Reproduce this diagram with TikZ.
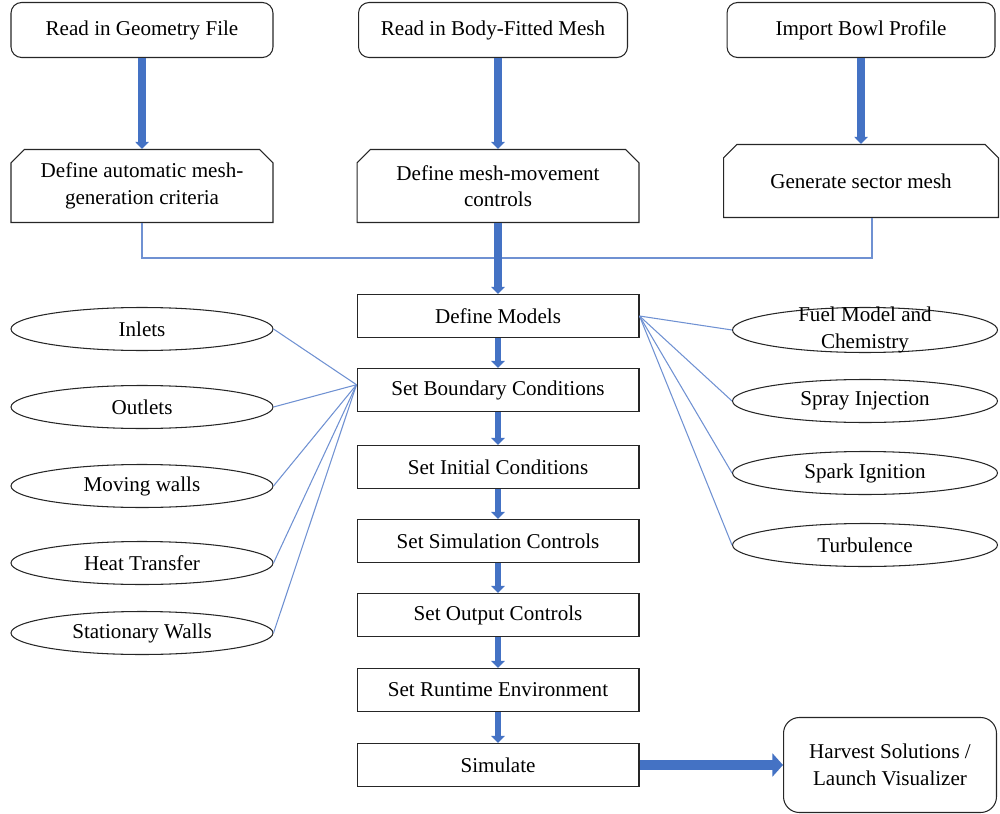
\documentclass[tikz,border=0pt]{standalone}
\usepackage{fontspec}
\setmainfont{Liberation Serif}
\usetikzlibrary{shapes.geometric,shapes.misc,arrows.meta}
\definecolor{flowblue}{HTML}{4472C4}
\definecolor{linkblue}{HTML}{6F91D2}

\begin{document}
\begin{tikzpicture}
[x=0.02cm, y=-0.02cm, font=\fontsize{12}{15}\selectfont,
 topbox/.style={rectangle, rounded corners=6pt, draw=black!85, semithick, minimum width=5.3cm, minimum height=1.1cm, align=center},
 cutbox/.style={chamfered rectangle, chamfered rectangle corners={north west,north east}, chamfered rectangle xsep=0.16cm, draw=black!85, semithick, minimum height=1.46cm, align=center},
 stepbox/.style={rectangle, draw=black!85, semithick, minimum width=5.64cm, minimum height=0.86cm},
 oval/.style={ellipse, draw=black!85, semithick, minimum width=5.24cm, minimum height=0.86cm, inner sep=0pt, align=center},
 flow/.style={draw=flowblue, line width=3.5pt, -{Triangle[width=7.5pt,length=4pt]}},
 link/.style={draw=linkblue, line width=0.6pt}]
\useasboundingbox (0,0) rectangle (1000,814);

% top row
\node[topbox, minimum width=5.24cm] (geo) at (142,30) {Read in Geometry File};
\node[topbox, minimum width=5.38cm] (body) at (493,30) {Read in Body-Fitted Mesh};
\node[topbox, minimum width=5.36cm] (bowl) at (861,30) {Import Bowl Profile};

% second row
\node[cutbox, minimum width=5.24cm] (crit) at (142,186) {Define automatic mesh-\\generation criteria};
\node[cutbox, minimum width=5.64cm] (move) at (498,186) {Define mesh-movement\\controls};
\node[cutbox, minimum width=5.5cm] (sector) at (861,181) {Generate sector mesh};

% main column
\node[stepbox] (models) at (498,316) {Define Models};
\node[stepbox] (bc) at (498,390) {Set Boundary Conditions};
\node[stepbox] (ic) at (498,467) {Set Initial Conditions};
\node[stepbox] (sc) at (498,541) {Set Simulation Controls};
\node[stepbox] (oc) at (498,615) {Set Output Controls};
\node[stepbox] (rt) at (498,690) {Set Runtime Environment};
\node[stepbox] (sim) at (498,765) {Simulate};
\node[topbox, rounded corners=9pt, minimum width=4.26cm, minimum height=1.9cm] (harvest) at (890,765) {Harvest Solutions /\\Launch Visualizer};

% boundary ovals
\node[oval] (inlets) at (142,329) {Inlets};
\node[oval] (outlets) at (142,407) {Outlets};
\node[oval] (moving) at (142,486) {Moving walls};
\node[oval] (heat) at (142,563) {Heat Transfer};
\node[oval] (stat) at (142,633) {Stationary Walls};

% model ovals
\node[oval, minimum width=5.3cm, minimum height=0.9cm, inner ysep=-5pt] (fuel) at (865,330) {Fuel Model and\\Chemistry};
\node[oval, minimum width=5.3cm] (spray) at (865,401) {Spray Injection};
\node[oval, minimum width=5.3cm] (spark) at (865,473) {Spark Ignition};
\node[oval, minimum width=5.3cm] (turb) at (865,545) {Turbulence};

% thin links
\coordinate (join) at (872,258);
\coordinate (bcin) at ([yshift=3pt]bc.west);
\draw[link] (crit.south) |- (join) -- (join |- sector.south);
\draw[link] (inlets.east) -- (bcin);
\draw[link] (outlets.east) -- (bcin);
\draw[link] (moving.east) -- (bcin);
\draw[link] (heat.east) -- (bcin);
\draw[link] (stat.east) -- (bcin);
\draw[link] (models.east) -- (fuel.west);
\draw[link] (models.east) -- (spray.west);
\draw[link] (models.east) -- (spark.west);
\draw[link] (models.east) -- (turb.west);

% thick arrows
\draw[flow, line width=4.5pt] (geo) -- (crit);
\draw[flow, line width=4.5pt] (move.north |- body.south) -- (move.north);
\draw[flow, line width=4.5pt] (bowl) -- (sector);
\draw[flow, line width=4.5pt] (move) -- (models);
\draw[flow] (models) -- (bc);
\draw[flow] (bc) -- (ic);
\draw[flow] (ic) -- (sc);
\draw[flow] (sc) -- (oc);
\draw[flow] (oc) -- (rt);
\draw[flow] (rt) -- (sim);
\draw[flow, line width=6pt, -{Triangle[width=13pt,length=6pt]}] (sim) -- (harvest);

\end{tikzpicture}
\end{document}
